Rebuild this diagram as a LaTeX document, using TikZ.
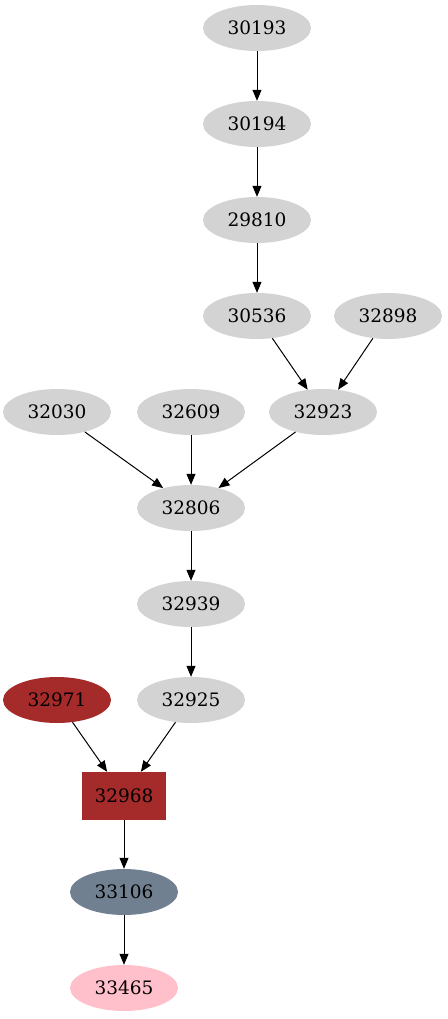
\documentclass[tikz,border=0pt]{standalone}
\usepackage{fontspec}
\setmainfont{DejaVu Serif}
\usetikzlibrary{shapes.geometric,arrows.meta,positioning}
\definecolor{nodegray}{RGB}{211,211,211}
\definecolor{nodebrown}{RGB}{165,42,42}
\definecolor{nodeslate}{RGB}{112,128,144}
\definecolor{nodepink}{RGB}{255,192,203}

\begin{document}
\begin{tikzpicture}[x=1pt,y=-1pt,
		every node/.style={font=\fontsize{18.5}{20}\selectfont},
		oval/.style={ellipse,minimum width=108pt,minimum height=46pt,inner sep=0pt},
		box/.style={rectangle,minimum width=84pt,minimum height=48pt,inner sep=0pt},
		edge/.style={-{Triangle[length=11pt,width=9pt]},line width=1pt}]
		\useasboundingbox (0,0) rectangle (447,1019);
		% grey nodes
		\foreach \n/\x/\y in {30193/257/28,30194/257/124,29810/257/220,30536/257/316,
			32898/388/316,32030/57/412,32609/191/412,32923/323/412,32806/191/508,
			32939/191/604,32925/191/700}
		\node[oval,fill=nodegray] (n\n) at (\x,\y) {\n};
		\node[oval,fill=nodebrown] (n32971) at (57,700) {32971};
		\node[box,fill=nodebrown] (n32968) at (124,796) {32968};
		\node[oval,fill=nodeslate] (n33106) at (124,892) {33106};
		\node[oval,fill=nodepink] (n33465) at (124,988) {33465};
		% edges
		\foreach \a/\b in {30193/30194,30194/29810,29810/30536,30536/32923,32898/32923,
			32030/32806,32609/32806,32923/32806,32806/32939,32939/32925,
			32971/32968,32925/32968,32968/33106,33106/33465}
		\draw[edge] (n\a) -- (n\b);
\end{tikzpicture}
\end{document}
